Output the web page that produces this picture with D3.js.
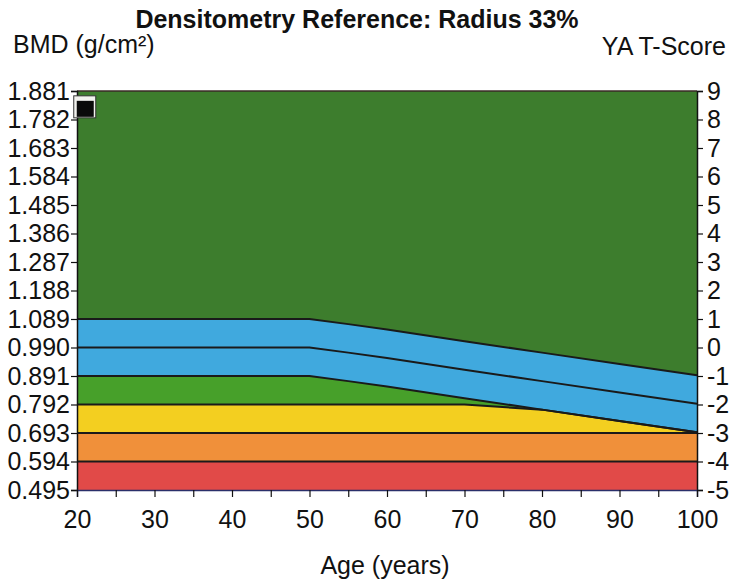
<!DOCTYPE html>
<html>
<head>
<meta charset="utf-8">
<script src="https://cdn.jsdelivr.net/npm/d3@7"></script>
<style>
  body { margin: 0; background: #fff; }
  svg { display: block; font-family: "Liberation Sans", Arial, sans-serif; }
</style>
</head>
<body>
<svg id="chart" width="747" height="585"></svg>
<script>
// ---- data ----
const bmdTicks = [0.495, 0.594, 0.693, 0.792, 0.891, 0.990, 1.089, 1.188, 1.287, 1.386, 1.485, 1.584, 1.683, 1.782, 1.881];
const tTicks = [-5, -4, -3, -2, -1, 0, 1, 2, 3, 4, 5, 6, 7, 8, 9];
const ageTicks = [20, 25, 30, 35, 40, 45, 50, 55, 60, 65, 70, 75, 80, 85, 90, 95, 100];
const ageLabels = [20, 30, 40, 50, 60, 70, 80, 90, 100];

// age-matched mean as YA T-score (curve drops after 50)
const ages = [20, 50, 55, 60, 70, 80, 90, 100];
const meanT = [0, 0, -0.18, -0.37, -0.78, -1.18, -1.58, -1.97];

// fixed T-score boundaries of the lower bands
const fixedLines = [-2, -3, -4];

// patient marker (age, BMD)
const marker = { age: 21, bmd: 1.826 };

const colors = {
  top: "#3d7d2d",
  blue: "#40a9de",
  green: "#47a02a",
  yellow: "#f3cf20",
  orange: "#f0903a",
  red: "#e14a48"
};

// ---- layout ----
const svg = d3.select("#chart");
const m = { left: 77, right: 697, top: 91, bottom: 490 };

const x = d3.scaleLinear().domain([20, 100]).range([m.left, m.right]);
const yB = d3.scaleLinear().domain([0.495, 1.881]).range([m.bottom, m.top]);
const yT = d3.scaleLinear().domain([-5, 9]).range([m.bottom, m.top]);

const curve = ages.map((a, i) => ({ age: a, t: meanT[i] }));

// ---- bands ----
svg.append("rect")
  .attr("x", x(20)).attr("y", yT(9))
  .attr("width", x(100) - x(20)).attr("height", yT(-5) - yT(9))
  .attr("fill", colors.top);

function band(topFn, color) {
  const area = d3.area()
    .x(d => x(d.age))
    .y0(yT(-5))
    .y1(d => yT(topFn(d)));
  svg.append("path").datum(curve).attr("d", area).attr("fill", color);
}

band(d => d.t + 1, colors.blue);
band(d => d.t - 1, colors.green);
band(d => Math.min(-2, d.t - 1), colors.yellow);
band(d => -3, colors.orange);
band(d => -4, colors.red);

// ---- boundary lines ----
function boundary(fn) {
  const line = d3.line().x(d => x(d.age)).y(d => yT(fn(d)));
  svg.append("path").datum(curve).attr("d", line)
    .attr("fill", "none").attr("stroke", "#1a1a1a").attr("stroke-width", 2);
}
boundary(d => d.t + 1);
boundary(d => d.t);
boundary(d => d.t - 1);
boundary(d => Math.min(fixedLines[0], d.t - 1));
boundary(d => fixedLines[1]);
boundary(d => fixedLines[2]);

// top frame
svg.append("line")
  .attr("x1", x(20)).attr("x2", x(100)).attr("y1", yT(9)).attr("y2", yT(9))
  .attr("stroke", "#3a2a26").attr("stroke-width", 1.5);

// ---- axes ----
const fs = 25;

const left = svg.append("g").attr("transform", `translate(${m.left},0)`)
  .call(d3.axisLeft(yB).tickValues(bmdTicks).tickFormat(d3.format(".3f")).tickSize(6).tickPadding(1));
const right = svg.append("g").attr("transform", `translate(${m.right},0)`)
  .call(d3.axisRight(yT).tickValues(tTicks).tickFormat(d3.format("d")).tickSize(6).tickPadding(4));
const bottom = svg.append("g").attr("transform", `translate(0,${m.bottom})`)
  .call(d3.axisBottom(x).tickValues(ageTicks)
    .tickFormat(d => ageLabels.includes(d) ? d : "").tickSize(7).tickPadding(13));

[left, right, bottom].forEach(g => {
  g.select(".domain").attr("stroke", "#111").attr("stroke-width", 1.5);
  g.selectAll(".tick line").attr("stroke", "#111").attr("stroke-width", 1.2);
  g.selectAll("text").attr("font-size", fs).attr("fill", "#111")
    .attr("font-family", "'Liberation Sans', Arial, sans-serif");
});
bottom.select(".domain").attr("stroke", "#2a2f6a");
right.selectAll("text").text(d => d < 0 ? "-" + Math.abs(d) : d);

// ---- marker ----
svg.append("rect")
  .attr("x", x(marker.age) - 11).attr("y", yB(marker.bmd) - 11)
  .attr("width", 22).attr("height", 22)
  .attr("fill", "#f2f2ee").attr("stroke", "#333").attr("stroke-width", 1);
svg.append("rect")
  .attr("x", x(marker.age) - 8).attr("y", yB(marker.bmd) - 6)
  .attr("width", 17).attr("height", 16)
  .attr("fill", "#0a0a0a");

// ---- titles ----
svg.append("text").attr("x", 357).attr("y", 28).attr("text-anchor", "middle")
  .attr("font-size", 25).attr("font-weight", "bold").attr("fill", "#111")
  .text("Densitometry Reference: Radius 33%");
svg.append("text").attr("x", 13).attr("y", 53)
  .attr("font-size", 25).attr("fill", "#111").text("BMD (g/cm²)");
svg.append("text").attr("x", 726).attr("y", 55).attr("text-anchor", "end")
  .attr("font-size", 25).attr("fill", "#111").text("YA T-Score");
svg.append("text").attr("x", 385).attr("y", 574).attr("text-anchor", "middle")
  .attr("font-size", 25).attr("fill", "#111").text("Age (years)");
</script>
</body>
</html>
